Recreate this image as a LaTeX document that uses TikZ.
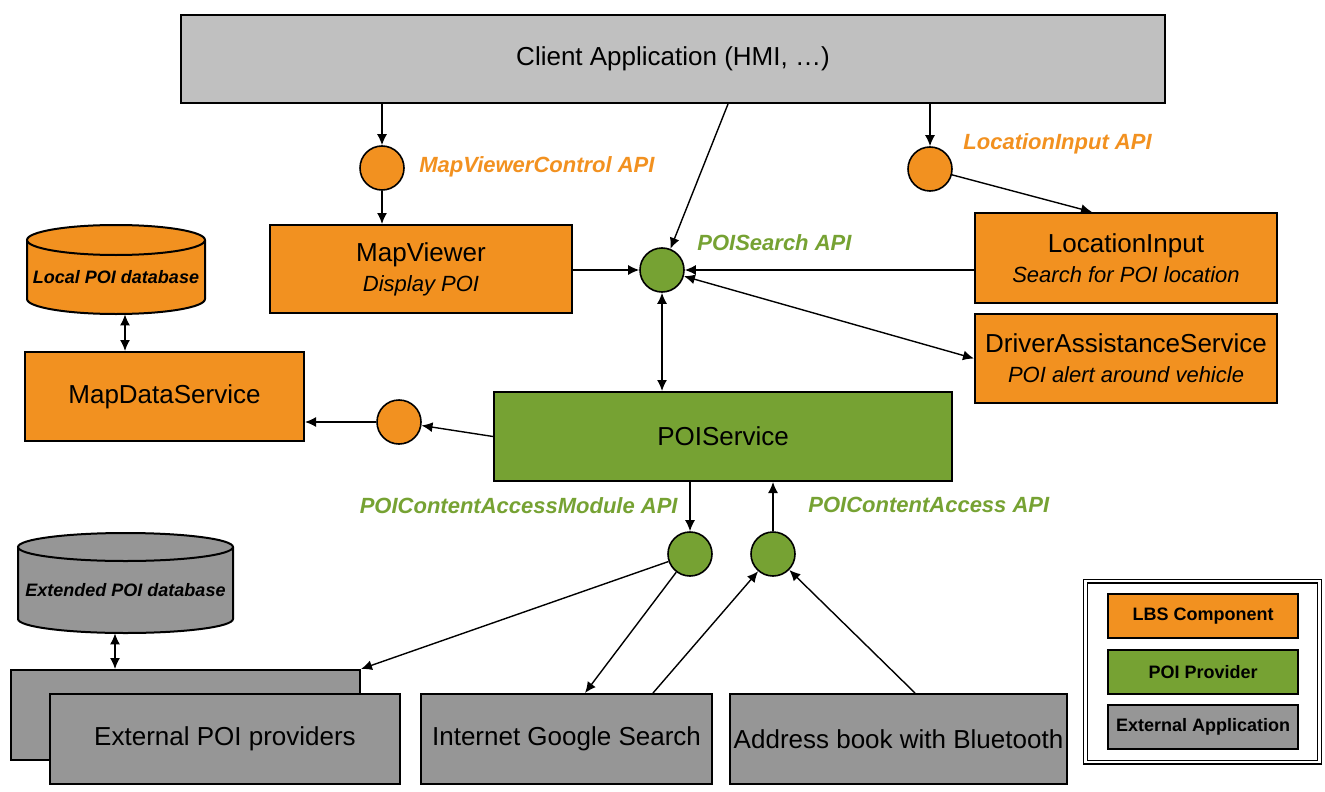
\documentclass[tikz,border=0pt]{standalone}
\usepackage{fontspec}
\setmainfont{Liberation Sans}
\usetikzlibrary{arrows.meta,calc}
\definecolor{lbs}{RGB}{242,145,32}
\definecolor{poi}{RGB}{118,162,51}
\definecolor{ext}{RGB}{150,150,150}
\definecolor{cli}{RGB}{192,192,192}
\tikzset{
  box/.style={draw=black, line width=1pt, rectangle, inner sep=0pt, align=center,
    font=\fontsize{13}{15}\selectfont},
  lbsbox/.style={box, fill=lbs},
  poibox/.style={box, fill=poi},
  extbox/.style={box, fill=ext},
  api/.style={circle, draw=black, line width=0.8pt, minimum size=22pt, inner sep=0pt},
  apilbl/.style={font=\fontsize{11}{13}\selectfont\bfseries\itshape, inner sep=0pt},
  arr/.style={-{Latex[length=5.5pt,width=5pt]}, line width=0.7pt},
  darr/.style={{Latex[length=5.5pt,width=5pt]}-{Latex[length=5.5pt,width=5pt]}, line width=0.7pt},
  dbtxt/.style={font=\fontsize{9}{11}\selectfont\bfseries\itshape, inner sep=0pt},
  legbox/.style={draw=black, line width=1pt, minimum width=95pt, minimum height=22pt, inner sep=0pt,
    font=\fontsize{9}{11}\selectfont\bfseries},
}
\begin{document}
\begin{tikzpicture}[x=0.5pt,y=0.5pt]
\useasboundingbox (0,0) rectangle (1325,-791);

% main boxes
\node[box, fill=cli, minimum width=492pt, minimum height=44pt] (client) at (673,-59) {Client Application (HMI, \dots)};
\node[lbsbox, minimum width=151pt, minimum height=44pt] (mapviewer) at (421,-269)
  {MapViewer\\[0pt]{\fontsize{11}{13}\selectfont\itshape Display POI}};
\node[lbsbox, minimum width=151pt, minimum height=45pt] (locinput) at (1126,-258)
  {LocationInput\\[0pt]{\fontsize{11}{13}\selectfont\itshape Search for POI location}};
\node[lbsbox, minimum width=151pt, minimum height=44.5pt] (driver) at (1126,-358.5)
  {DriverAssistanceService\\[0pt]{\fontsize{11}{13}\selectfont\itshape POI alert around vehicle}};
\node[poibox, minimum width=229pt, minimum height=44.5pt] (poiservice) at (723,-436.5) {POIService};
\node[lbsbox, minimum width=139.5pt, minimum height=44.5pt] (mapdata) at (164.5,-396.5) {MapDataService};

\node[extbox, minimum width=174.5pt, minimum height=45pt] (extback) at (185.5,-715) {};
\node[extbox, minimum width=175pt, minimum height=45pt] (extfront) at (225,-739) {External POI providers};
\node[extbox, minimum width=145.5pt, minimum height=45pt] (google) at (566.5,-739) {Internet Google Search};
\node[extbox, minimum width=168.5pt, minimum height=45pt] (address) at (898.5,-739) {Address book with Bluetooth};

% cylinders
\filldraw[fill=lbs, line width=1pt] (27,-240) -- (27,-299)
  arc[start angle=180, end angle=360, x radius=44.5pt, y radius=7.5pt] -- (205,-240);
\filldraw[fill=lbs, line width=1pt] (116,-240) ellipse [x radius=44.5pt, y radius=7.5pt];
\node[inner sep=0pt, minimum width=89pt, minimum height=44.5pt] (localdb) at (116,-269.5) {};
\node[dbtxt] (localdbtxt) at (116,-277) {Local POI database};

\filldraw[fill=ext, line width=1pt] (18,-547) -- (18,-619)
  arc[start angle=180, end angle=360, x radius=53.75pt, y radius=7pt] -- (233,-547);
\filldraw[fill=ext, line width=1pt] (125.5,-547) ellipse [x radius=53.75pt, y radius=7pt];
\node[inner sep=0pt, minimum width=107.5pt, minimum height=50pt] (extdb) at (125.5,-583) {};
\node[dbtxt] (extdbtxt) at (125.5,-590) {Extended POI database};

% API circles
\node[api, fill=lbs] (cmvc) at (382,-168) {};
\node[api, fill=poi] (csearch) at (662,-270) {};
\node[api, fill=lbs] (cloc) at (930,-169) {};
\node[api, fill=lbs] (cmds) at (399,-422) {};
\node[api, fill=poi] (ccam) at (690,-554) {};
\node[api, fill=poi] (cca) at (773,-554) {};

% API labels
\node[apilbl, text=lbs, anchor=west] (lmvc) at (419,-167) {MapViewerControl API};
\node[apilbl, text=poi, anchor=west] (lsearch) at (697,-243) {POISearch API};
\node[apilbl, text=lbs, anchor=west] (lloc) at (963,-144) {LocationInput API};
\node[apilbl, text=poi, anchor=east] (lcam) at (678,-506) {POIContentAccessModule API};
\node[apilbl, text=poi, anchor=west] (lca) at (808,-505) {POIContentAccess API};

% legend
\node[draw=black, line width=0.6pt, double, double distance=1.3pt, minimum width=117pt, minimum height=90.5pt, inner sep=0pt] (legend) at (1202.5,-671.5) {};
\node[legbox, fill=lbs] (leg1) at (1203,-616) {LBS Component};
\node[legbox, fill=poi] (leg2) at (1203,-672) {POI Provider};
\node[legbox, fill=ext] (leg3) at (1203,-727) {External Application};

% connectors
\draw[arr] (cmvc |- client.south) -- (cmvc.north);
\draw[arr] (cmvc.south) -- (cmvc |- mapviewer.north);
\draw[arr] ($(client.south)+(55,0)$) -- (csearch);
\draw[arr] (cloc |- client.south) -- (cloc.north);
\draw[arr] (cloc) -- ($(locinput.north)+(-34,0)$);
\draw[arr] (mapviewer.east |- csearch) -- (csearch.west);
\draw[arr] (locinput.west |- csearch) -- (csearch.east);
\draw[darr] (csearch) -- (driver.west);
\draw[darr] (csearch.south) -- (csearch |- poiservice.north);
\draw[arr] (poiservice.west) -- (cmds);
\draw[arr] (cmds.west) -- (cmds -| mapdata.east);
\draw[darr] ([xshift=4.5pt]localdb.south) -- ([xshift=4.5pt]localdb.south |- mapdata.north);
\draw[darr] ([xshift=-5.25pt]extdb.south) -- ([xshift=-5.25pt]extdb.south |- extback.north);
\draw[arr] (ccam |- poiservice.south) -- (ccam.north);
\draw[arr] (cca.north) -- (cca |- poiservice.south);
\draw[arr] (ccam) -- (extback.north east);
\draw[arr] (ccam) -- ($(google.north)+(18.5,0)$);
\draw[arr] ($(google.north)+(86.5,0)$) -- (cca);
\draw[arr] ($(address.north)+(16.5,0)$) -- (cca);
\end{tikzpicture}
\end{document}
